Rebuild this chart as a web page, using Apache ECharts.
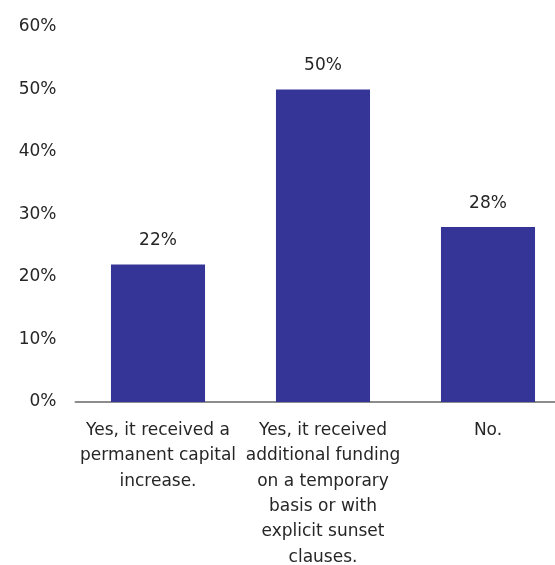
<!DOCTYPE html>
<html>
<head>
<meta charset="utf-8">
<script src="https://cdn.jsdelivr.net/npm/echarts@6/dist/echarts.min.js"></script>
<style>html,body{margin:0;padding:0;background:#fff}#c{width:555px;height:565px}</style>
</head>
<body>
<div id="c"></div>
<script>
const categories = [
  "Yes, it received a\npermanent capital\nincrease.",
  "Yes, it received\nadditional funding\non a temporary\nbasis or with\nexplicit sunset\nclauses.",
  "No."
];
const values = [22, 50, 28];
const yTicks = { min: 0, max: 60, interval: 10 };

const chart = echarts.init(document.getElementById('c'), null, { renderer: 'canvas' });
const font = 'DejaVu Sans';
chart.setOption({
  animation: false,
  grid: { left: 75.5, right: -15.5, top: 27, bottom: 163, containLabel: false, outerBoundsMode: 'none' },
  xAxis: {
    type: 'category',
    data: categories,
    axisLine: { show: true, lineStyle: { color: '#8c8c8c', width: 2 } },
    axisTick: { show: false },
    axisLabel: { interval: 0, color: '#262626', fontFamily: font, fontSize: 17, lineHeight: 25.3, margin: 16 }
  },
  yAxis: {
    type: 'value',
    min: yTicks.min, max: yTicks.max, interval: yTicks.interval,
    splitLine: { show: false },
    axisLine: { show: false },
    axisTick: { show: false },
    axisLabel: { formatter: '{value}%', color: '#262626', fontFamily: font, fontSize: 17, margin: 19 }
  },
  series: [{
    type: 'bar',
    data: values,
    barWidth: '57%',
    itemStyle: { color: '#353597' },
    label: { show: true, position: 'top', distance: 15, formatter: '{c}%', color: '#262626', fontFamily: font, fontSize: 17 }
  }]
});
</script>
</body>
</html>
